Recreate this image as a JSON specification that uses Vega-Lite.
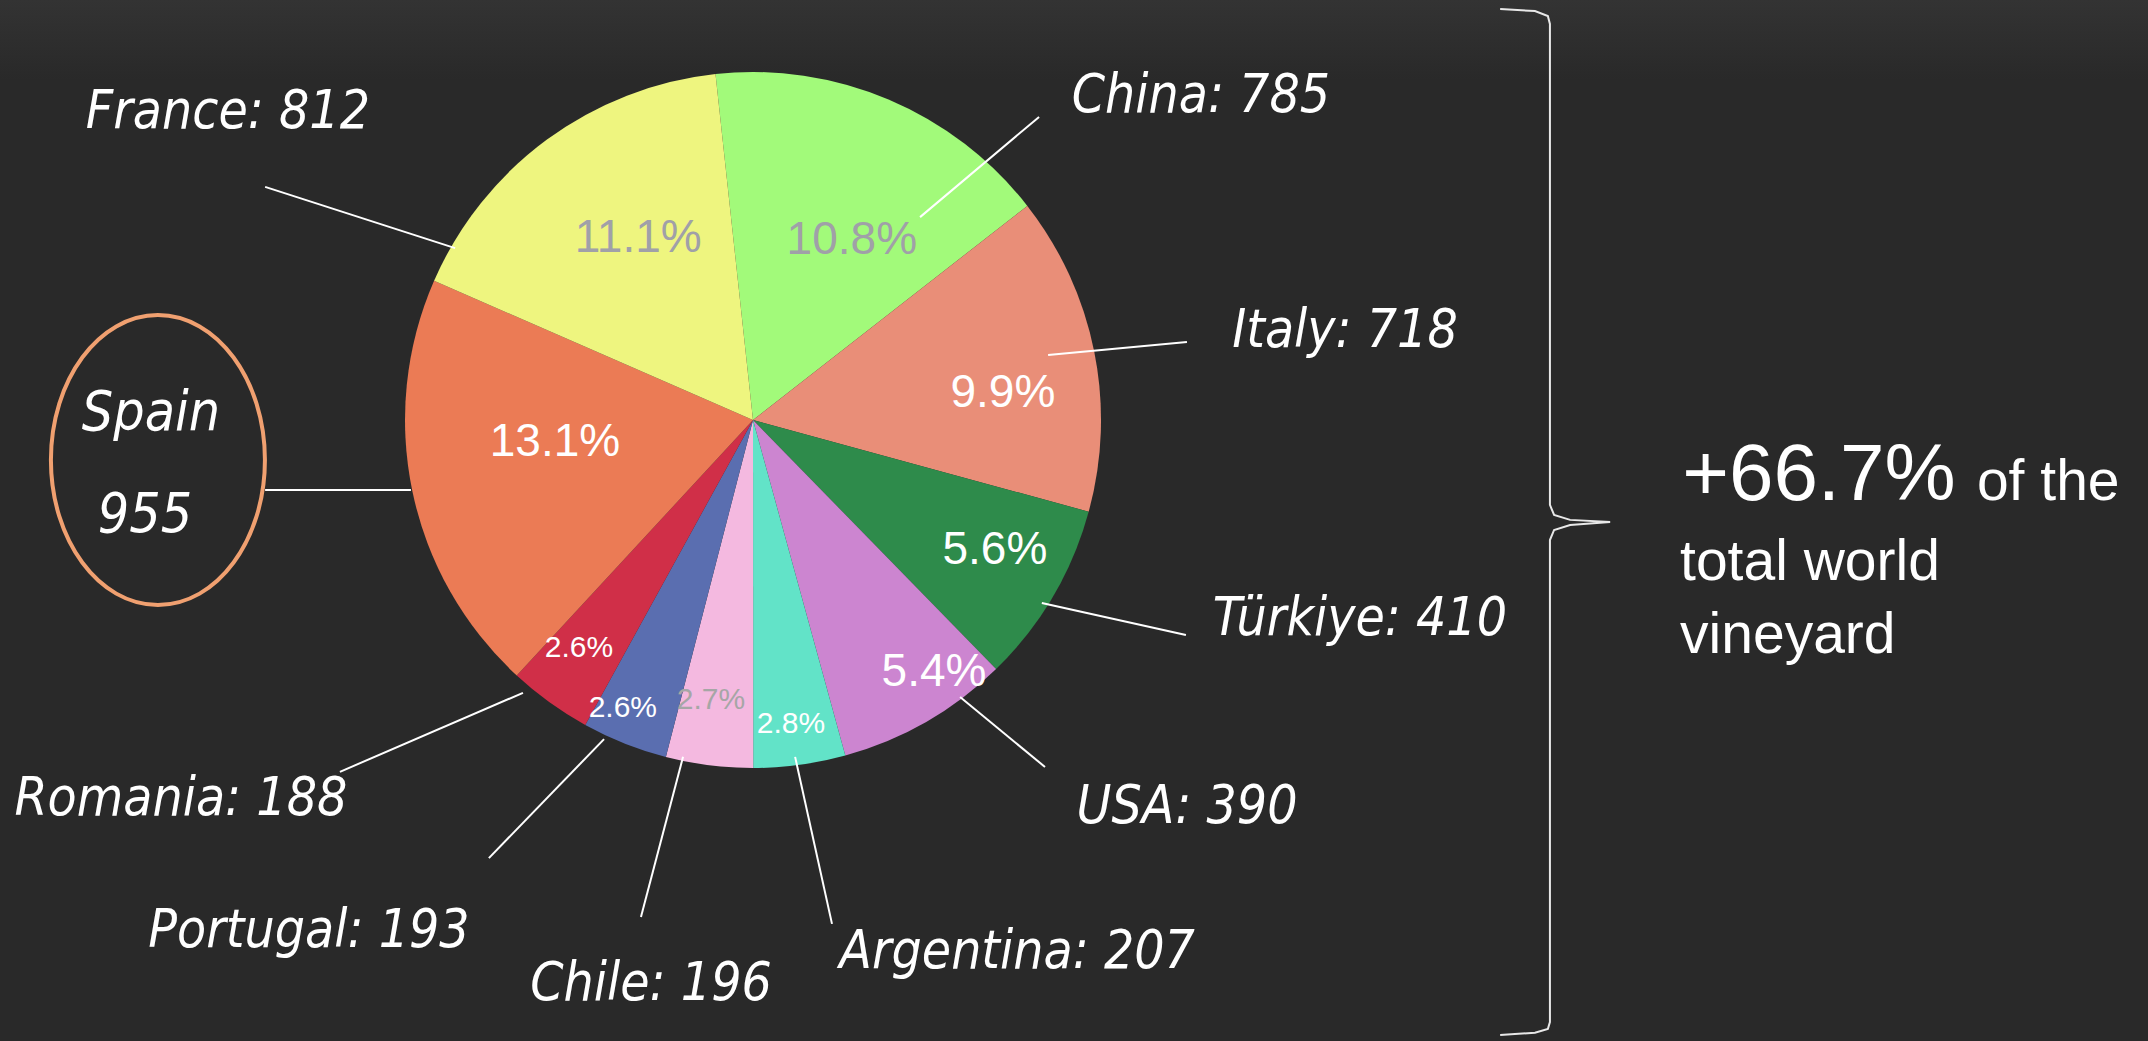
{
  "$schema": "https://vega.github.io/schema/vega-lite/v6.json",
  "width": 2148,
  "height": 1041,
  "autosize": "none",
  "padding": 0,
  "background": "#292929",
  "config": {"view": {"stroke": null}},
  "datasets": {
    "vineyard": [
      {"country": "China", "area": 785, "share": 0.108, "order": 1},
      {"country": "Italy", "area": 718, "share": 0.099, "order": 2},
      {"country": "Türkiye", "area": 410, "share": 0.056, "order": 3},
      {"country": "USA", "area": 390, "share": 0.054, "order": 4},
      {"country": "Argentina", "area": 207, "share": 0.028, "order": 5},
      {"country": "Chile", "area": 196, "share": 0.027, "order": 6},
      {"country": "Portugal", "area": 193, "share": 0.026, "order": 7},
      {"country": "Romania", "area": 188, "share": 0.026, "order": 8},
      {"country": "Spain", "area": 955, "share": 0.131, "order": 9},
      {"country": "France", "area": 812, "share": 0.111, "order": 10}
    ],
    "shareLabels": [
      {"country": "Spain", "x": -56.9, "y": -6.3},
      {"country": "France", "x": -33.0, "y": 52.3},
      {"country": "China", "x": 28.4, "y": 51.7},
      {"country": "Italy", "x": 71.8, "y": 7.8},
      {"country": "Türkiye", "x": 69.5, "y": -37.4},
      {"country": "USA", "x": 52.0, "y": -72.4},
      {"country": "Argentina", "x": 10.9, "y": -87.4},
      {"country": "Chile", "x": -12.1, "y": -80.5},
      {"country": "Portugal", "x": -37.4, "y": -82.8},
      {"country": "Romania", "x": -50.0, "y": -65.5}
    ],
    "nameLabels": [
      {"country": "France", "x": -150.9, "y": 83.9},
      {"country": "China", "x": 128.7, "y": 88.5},
      {"country": "Italy", "x": 170.1, "y": 21.0},
      {"country": "Türkiye", "x": 174.4, "y": -61.8},
      {"country": "USA", "x": 124.7, "y": -115.8},
      {"country": "Argentina", "x": 75.9, "y": -157.5},
      {"country": "Chile", "x": -29.3, "y": -166.7},
      {"country": "Portugal", "x": -127.6, "y": -151.4},
      {"country": "Romania", "x": -164.4, "y": -113.5}
    ],
    "leaders": [
      {"country": "France", "x": -140.2, "y": 67.0, "x2": -85.6, "y2": 49.4},
      {"country": "China", "x": 82.2, "y": 87.1, "x2": 48.0, "y2": 58.3},
      {"country": "Italy", "x": 124.7, "y": 22.4, "x2": 84.8, "y2": 18.7},
      {"country": "Türkiye", "x": 83.0, "y": -52.6, "x2": 124.4, "y2": -61.8},
      {"country": "USA", "x": 59.5, "y": -79.6, "x2": 83.9, "y2": -99.7},
      {"country": "Argentina", "x": 12.1, "y": -96.8, "x2": 22.7, "y2": -144.8},
      {"country": "Chile", "x": -20.1, "y": -96.8, "x2": -32.2, "y2": -142.8},
      {"country": "Portugal", "x": -42.8, "y": -91.7, "x2": -75.9, "y2": -125.9},
      {"country": "Romania", "x": -66.1, "y": -78.4, "x2": -118.7, "y2": -101.1},
      {"country": "Spain", "x": -140.2, "y": -20.1, "x2": -98.3, "y2": -20.1}
    ],
    "spainCallout": [
      {"country": "Spain", "x": -171.0, "y": -11.5}
    ],
    "spainText": [
      {"text": "Spain", "x": -173.0, "y": -2.9},
      {"text": "955", "x": -174.7, "y": -32.2}
    ],
    "brace": [
      {"i": 1, "x": 214.7, "y": 118.1},
      {"i": 2, "x": 224.7, "y": 117.5},
      {"i": 3, "x": 228.4, "y": 116.1},
      {"i": 4, "x": 229.0, "y": 113.8},
      {"i": 5, "x": 229.0, "y": -24.4},
      {"i": 6, "x": 230.2, "y": -27.3},
      {"i": 7, "x": 234.8, "y": -28.7},
      {"i": 8, "x": 246.3, "y": -29.3},
      {"i": 9, "x": 234.8, "y": -30.2},
      {"i": 10, "x": 230.2, "y": -31.6},
      {"i": 11, "x": 229.0, "y": -34.5},
      {"i": 12, "x": 229.0, "y": -173.0},
      {"i": 13, "x": 228.4, "y": -175.0},
      {"i": 14, "x": 224.7, "y": -176.1},
      {"i": 15, "x": 214.7, "y": -176.7}
    ],
    "bigNote": [
      {"text": "+66.7%", "x": 267.0, "y": -23.0}
    ],
    "smallNote": [
      {"text": "of the", "x": 351.7, "y": -23.0},
      {"text": "total world", "x": 266.4, "y": -46.0},
      {"text": "vineyard", "x": 266.4, "y": -67.0}
    ]
  },
  "layer": [
    {
      "data": {"values": [{"part": "top shade"}]},
      "mark": {"type": "rect", "color": {"gradient": "linear", "x1": 0, "y1": 0, "x2": 0, "y2": 1, "stops": [{"offset": 0, "color": "#333333"}, {"offset": 1, "color": "#292929"}]}},
      "encoding": {
        "x": {"datum": -216.38, "type": "quantitative", "scale": {"domain": [-216.38, 400.86], "nice": false, "zero": false}, "axis": null},
        "x2": {"datum": 400.86},
        "y": {"datum": 120.69, "type": "quantitative", "scale": {"domain": [-178.45, 120.69], "nice": false, "zero": false}, "axis": null},
        "y2": {"datum": 97.7}
      }
    },
    {
      "data": {"name": "vineyard"},
      "mark": {"type": "arc", "radius": 348},
      "encoding": {
        "x": {"datum": 0, "type": "quantitative", "scale": {"domain": [-216.38, 400.86], "nice": false, "zero": false}, "axis": null},
        "y": {"datum": 0, "type": "quantitative", "scale": {"domain": [-178.45, 120.69], "nice": false, "zero": false}, "axis": null},
        "theta": {"field": "area", "type": "quantitative", "stack": true, "scale": {"range": [-0.108, 6.1752]}},
        "order": {"field": "order", "type": "quantitative"},
        "color": {
          "field": "country", "type": "nominal", "legend": null,
          "scale": {
            "domain": ["China", "Italy", "Türkiye", "USA", "Argentina", "Chile", "Portugal", "Romania", "Spain", "France"],
            "range": ["#a2fa7a", "#e98e78", "#2e8b4b", "#cc85d0", "#62e3c8", "#f4b9e0", "#5a6eb0", "#d02f48", "#eb7b55", "#eef57f"]
          }
        }
      }
    },
    {
      "data": {"name": "leaders"},
      "mark": {"type": "rule", "color": "#ffffff", "strokeWidth": 2},
      "encoding": {
        "x": {"field": "x", "type": "quantitative", "scale": {"domain": [-216.38, 400.86], "nice": false, "zero": false}, "axis": null},
        "y": {"field": "y", "type": "quantitative", "scale": {"domain": [-178.45, 120.69], "nice": false, "zero": false}, "axis": null},
        "x2": {"field": "x2"},
        "y2": {"field": "y2"}
      }
    },
    {
      "data": {"name": "shareLabels"},
      "transform": [
        {"lookup": "country", "from": {"data": {"name": "vineyard"}, "key": "country", "fields": ["share"]}},
        {"filter": "datum.share >= 0.05 && indexof(['France','China'], datum.country) < 0"}
      ],
      "mark": {"type": "text", "font": "Liberation Sans, Arial, sans-serif", "fontSize": 46, "color": "#ffffff", "align": "center", "baseline": "middle"},
      "encoding": {
        "x": {"field": "x", "type": "quantitative", "scale": {"domain": [-216.38, 400.86], "nice": false, "zero": false}, "axis": null},
        "y": {"field": "y", "type": "quantitative", "scale": {"domain": [-178.45, 120.69], "nice": false, "zero": false}, "axis": null},
        "text": {"field": "share", "type": "quantitative", "format": ".1%"}
      }
    },
    {
      "data": {"name": "shareLabels"},
      "transform": [
        {"lookup": "country", "from": {"data": {"name": "vineyard"}, "key": "country", "fields": ["share"]}},
        {"filter": "datum.share >= 0.05 && indexof(['France','China'], datum.country) >= 0"}
      ],
      "mark": {"type": "text", "font": "Liberation Sans, Arial, sans-serif", "fontSize": 46, "color": "#a0a0a8", "align": "center", "baseline": "middle"},
      "encoding": {
        "x": {"field": "x", "type": "quantitative", "scale": {"domain": [-216.38, 400.86], "nice": false, "zero": false}, "axis": null},
        "y": {"field": "y", "type": "quantitative", "scale": {"domain": [-178.45, 120.69], "nice": false, "zero": false}, "axis": null},
        "text": {"field": "share", "type": "quantitative", "format": ".1%"}
      }
    },
    {
      "data": {"name": "shareLabels"},
      "transform": [
        {"lookup": "country", "from": {"data": {"name": "vineyard"}, "key": "country", "fields": ["share"]}},
        {"filter": "datum.share < 0.05 && datum.country != 'Chile'"}
      ],
      "mark": {"type": "text", "font": "Liberation Sans, Arial, sans-serif", "fontSize": 30, "color": "#ffffff", "align": "center", "baseline": "middle"},
      "encoding": {
        "x": {"field": "x", "type": "quantitative", "scale": {"domain": [-216.38, 400.86], "nice": false, "zero": false}, "axis": null},
        "y": {"field": "y", "type": "quantitative", "scale": {"domain": [-178.45, 120.69], "nice": false, "zero": false}, "axis": null},
        "text": {"field": "share", "type": "quantitative", "format": ".1%"}
      }
    },
    {
      "data": {"name": "shareLabels"},
      "transform": [
        {"lookup": "country", "from": {"data": {"name": "vineyard"}, "key": "country", "fields": ["share"]}},
        {"filter": "datum.share < 0.05 && datum.country == 'Chile'"}
      ],
      "mark": {"type": "text", "font": "Liberation Sans, Arial, sans-serif", "fontSize": 30, "color": "#a6a6a6", "align": "center", "baseline": "middle"},
      "encoding": {
        "x": {"field": "x", "type": "quantitative", "scale": {"domain": [-216.38, 400.86], "nice": false, "zero": false}, "axis": null},
        "y": {"field": "y", "type": "quantitative", "scale": {"domain": [-178.45, 120.69], "nice": false, "zero": false}, "axis": null},
        "text": {"field": "share", "type": "quantitative", "format": ".1%"}
      }
    },
    {
      "data": {"name": "nameLabels"},
      "transform": [
        {"lookup": "country", "from": {"data": {"name": "vineyard"}, "key": "country", "fields": ["area"]}},
        {"calculate": "datum.country + ': ' + datum.area", "as": "label"}
      ],
      "mark": {"type": "text", "font": "DejaVu Sans Condensed, Liberation Sans, sans-serif", "fontStyle": "italic", "fontSize": 53, "color": "#ffffff", "align": "center", "baseline": "alphabetic"},
      "encoding": {
        "x": {"field": "x", "type": "quantitative", "scale": {"domain": [-216.38, 400.86], "nice": false, "zero": false}, "axis": null},
        "y": {"field": "y", "type": "quantitative", "scale": {"domain": [-178.45, 120.69], "nice": false, "zero": false}, "axis": null},
        "text": {"field": "label", "type": "nominal"}
      }
    },
    {
      "data": {"name": "spainCallout"},
      "mark": {"type": "point", "shape": "M -0.738 0 A 0.738 1 0 1 1 0.738 0 A 0.738 1 0 1 1 -0.738 0 Z", "size": 84100, "filled": false, "stroke": "#f0a070", "strokeWidth": 4, "opacity": 1},
      "encoding": {
        "x": {"field": "x", "type": "quantitative", "scale": {"domain": [-216.38, 400.86], "nice": false, "zero": false}, "axis": null},
        "y": {"field": "y", "type": "quantitative", "scale": {"domain": [-178.45, 120.69], "nice": false, "zero": false}, "axis": null}
      }
    },
    {
      "data": {"name": "spainText"},
      "mark": {"type": "text", "font": "DejaVu Sans Condensed, Liberation Sans, sans-serif", "fontStyle": "italic", "fontSize": 55, "color": "#ffffff", "align": "center", "baseline": "alphabetic"},
      "encoding": {
        "x": {"field": "x", "type": "quantitative", "scale": {"domain": [-216.38, 400.86], "nice": false, "zero": false}, "axis": null},
        "y": {"field": "y", "type": "quantitative", "scale": {"domain": [-178.45, 120.69], "nice": false, "zero": false}, "axis": null},
        "text": {"field": "text", "type": "nominal"}
      }
    },
    {
      "data": {"name": "brace"},
      "mark": {"type": "line", "color": "#e8e8e8", "strokeWidth": 2},
      "encoding": {
        "x": {"field": "x", "type": "quantitative", "scale": {"domain": [-216.38, 400.86], "nice": false, "zero": false}, "axis": null},
        "y": {"field": "y", "type": "quantitative", "scale": {"domain": [-178.45, 120.69], "nice": false, "zero": false}, "axis": null},
        "order": {"field": "i", "type": "quantitative"}
      }
    },
    {
      "data": {"name": "bigNote"},
      "mark": {"type": "text", "font": "Liberation Sans, Arial, sans-serif", "fontSize": 80, "color": "#ffffff", "align": "left", "baseline": "alphabetic"},
      "encoding": {
        "x": {"field": "x", "type": "quantitative", "scale": {"domain": [-216.38, 400.86], "nice": false, "zero": false}, "axis": null},
        "y": {"field": "y", "type": "quantitative", "scale": {"domain": [-178.45, 120.69], "nice": false, "zero": false}, "axis": null},
        "text": {"field": "text", "type": "nominal"}
      }
    },
    {
      "data": {"name": "smallNote"},
      "mark": {"type": "text", "font": "Liberation Sans, Arial, sans-serif", "fontSize": 57, "color": "#ffffff", "align": "left", "baseline": "alphabetic"},
      "encoding": {
        "x": {"field": "x", "type": "quantitative", "scale": {"domain": [-216.38, 400.86], "nice": false, "zero": false}, "axis": null},
        "y": {"field": "y", "type": "quantitative", "scale": {"domain": [-178.45, 120.69], "nice": false, "zero": false}, "axis": null},
        "text": {"field": "text", "type": "nominal"}
      }
    }
  ]
}
